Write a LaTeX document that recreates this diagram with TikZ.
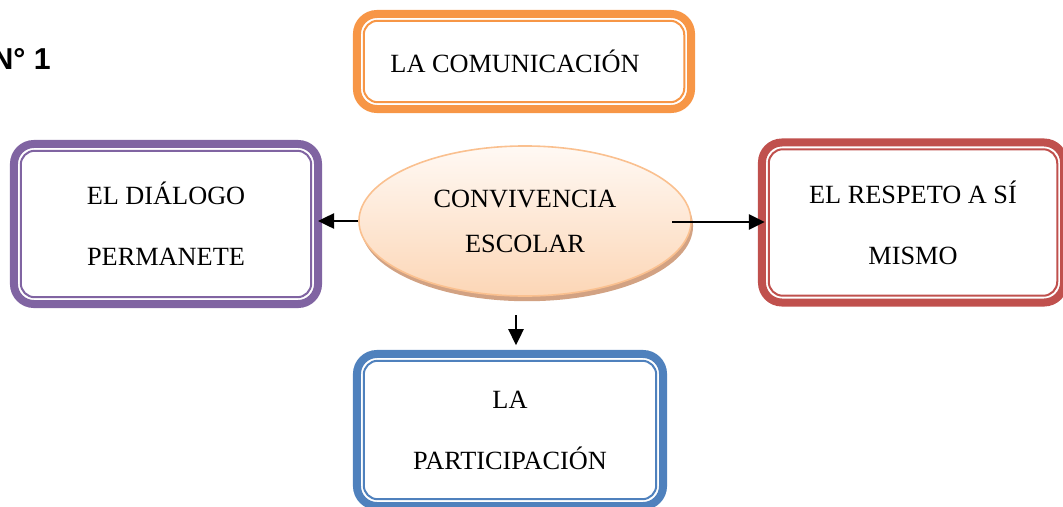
\documentclass[tikz,border=0pt]{standalone}
\usepackage{fontspec}
\setmainfont{Liberation Serif}
\newfontfamily\labelfont{Liberation Sans}
\usepackage{xcolor}
\usepackage{tikz}
\usetikzlibrary{
    calc,
    arrows.meta,
    shapes.geometric,
    shadows
}
\definecolor{comorange}{HTML}{F79646}
\definecolor{dialpurple}{HTML}{8064A2}
\definecolor{respred}{HTML}{C0504D}
\definecolor{partblue}{HTML}{4F81BD}
\definecolor{convborder}{HTML}{FAC08F}
\definecolor{convtop}{HTML}{FFF9F4}
\definecolor{convbottom}{HTML}{FCD6B6}
\definecolor{convshadow}{HTML}{D2A283}
\tikzset{% boxes with a thick outer line (the thin inner line is drawn afterwards)
    mapbox/.style={%
        draw=#1, line width=0.2cm, rounded corners=0.5cm, fill=white,
        inner sep=0pt, align=center,
        font=\fontsize{18.7}{43.4}\selectfont
    },
    innerline/.style={draw=#1, line width=0.05cm, rounded corners=0.35cm},
    conn/.style={-{Triangle[length=0.4cm, width=0.38cm]}, line width=0.05cm}
}

\begin{document}
\begin{tikzpicture}[x=0.025cm, y=-0.025cm]
        \useasboundingbox (0,0) rectangle (1063,506);

        \draw (51,59) node[anchor=east, inner sep=0pt, font=\labelfont\bfseries\fontsize{21.5}{24}\selectfont](num){N° 1};

        \draw (524,61.5) node[mapbox=comorange, minimum width=8.35cm, minimum height=2.375cm](com){LA COMUNICACIÓN\hspace*{0.45cm}};
        \draw (166,224) node[mapbox=dialpurple, minimum width=7.6cm, minimum height=4.0cm](dial){EL DIÁLOGO\\PERMANETE};
        \draw (913,222.5) node[mapbox=respred, minimum width=7.55cm, minimum height=4.0cm](resp){EL RESPETO A SÍ\\MISMO};
        \draw (510,430) node[mapbox=partblue, minimum width=7.65cm, minimum height=3.8cm](part){LA\\PARTICIPACIÓN};

        % thin inner lines
        \foreach \n/\c in {com/comorange, dial/dialpurple, resp/respred, part/partblue}
            \draw[innerline=\c] ([shift={(0.27cm,0.27cm)}]\n.south west) rectangle ([shift={(-0.27cm,-0.27cm)}]\n.north east);

        \draw (525,221) node[ellipse, draw=convborder, line width=0.04cm, top color=convtop, bottom color=convbottom,
            drop shadow={shadow xshift=0.05cm, shadow yshift=-0.13cm, fill=convshadow, opacity=1},
            minimum width=8.3cm, minimum height=3.75cm, inner sep=0pt, align=center,
            font=\fontsize{18.7}{32}\selectfont](conv){CONVIVENCIA\\ESCOLAR};

        \coordinate (rstart) at (672,222);
        \coordinate (dstart) at (516,315);
        \draw[conn, shorten >=-0.1cm] (conv.west) -- (conv.west -| dial.east);
        \draw[conn, shorten >=-0.17cm] (rstart) -- (rstart -| resp.west);
        \draw[conn, shorten >=0.12cm] (dstart) -- (dstart |- part.north);
    \end{tikzpicture}
\end{document}
